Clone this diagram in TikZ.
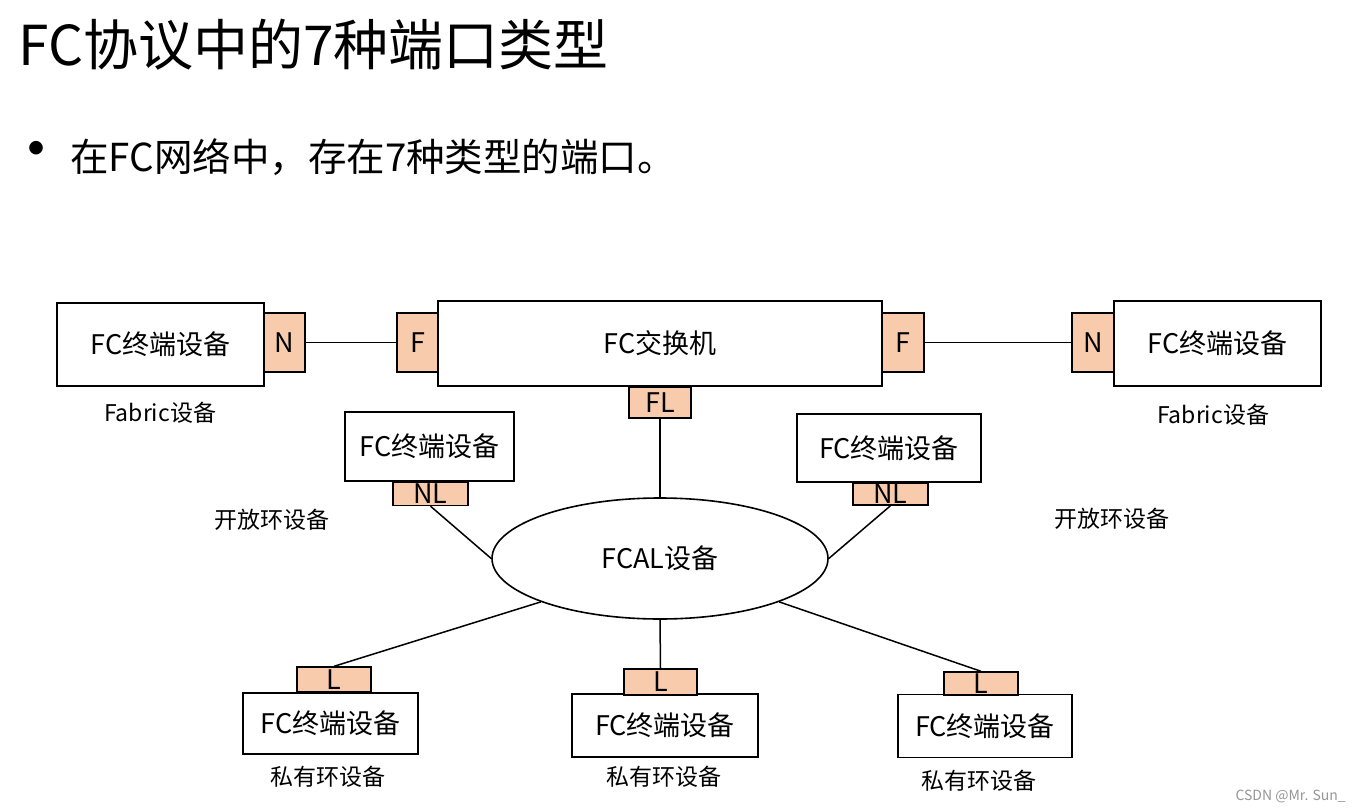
\documentclass[tikz,border=0pt]{standalone}
\usepackage{fontspec}
\setmainfont{Noto Sans CJK SC}
\usetikzlibrary{shapes.geometric}
\definecolor{portc}{RGB}{248,203,173}
\definecolor{wmark}{RGB}{150,150,150}
\begin{document}
\begin{tikzpicture}[x=1pt,y=-1pt,
  dev/.style={draw, line width=1.6pt, inner sep=0pt, font=\fontsize{27}{30}\selectfont},
  port/.style={draw, line width=1.4pt, fill=portc, inner sep=0pt, font=\fontsize{27}{29}\selectfont},
  lbl/.style={inner sep=0pt, font=\fontsize{23}{26}\selectfont},
  link/.style={line width=1.5pt}]
\useasboundingbox[fill=white] (0,0) rectangle (1360,811);

% title and bullet
\node[anchor=west, inner sep=0pt, font=\fontsize{55}{60}\selectfont] (title) at (18,45) {FC协议中的7种端口类型};
\node[inner sep=0pt, font=\fontsize{64}{66}\selectfont] (bul) at (37,157) {•};
\node[anchor=west, inner sep=0pt, font=\fontsize{38.5}{42}\selectfont] (sub) at (70,157) {在FC网络中，存在7种类型的端口。};

% top row
\node[dev, minimum width=207pt, minimum height=83pt] (fabL) at (160.5,344.5) {FC终端设备};
\node[port, minimum width=41pt, minimum height=59pt] (nL) at (284.5,342.5) {N};
\node[port, minimum width=41pt, minimum height=59pt] (fL) at (417.5,342.5) {F};
\node[dev, minimum width=444pt, minimum height=85pt] (sw) at (660,343.5) {FC交换机};
\node[port, minimum width=42pt, minimum height=59pt] (fR) at (903,342.5) {F};
\node[port, minimum width=42pt, minimum height=59pt] (nR) at (1093,342.5) {N};
\node[dev, minimum width=207pt, minimum height=85pt] (fabR) at (1217.5,343.5) {FC终端设备};
\node[port, minimum width=62pt, minimum height=31pt] (fl) at (660,402.5) {FL};

\node[lbl] (labFL) at (160,413) {Fabric设备};
\node[lbl] (labFR) at (1213,415) {Fabric设备};

% loop
\node[dev, ellipse, minimum width=336pt, minimum height=121pt] (al) at (660,558.5) {FCAL设备};

% open loop devices
\node[dev, minimum width=169pt, minimum height=69pt] (oL) at (429.5,446.5) {FC终端设备};
\node[port, minimum width=75pt, minimum height=23pt] (nlL) at (430.5,494) {NL};
\node[dev, minimum width=184pt, minimum height=68pt] (oR) at (889,448) {FC终端设备};
\node[port, minimum width=75pt, minimum height=22pt] (nlR) at (890.5,494) {NL};
\node[lbl] (labOL) at (272,520) {开放环设备};
\node[lbl] (labOR) at (1112,519) {开放环设备};

% private loop devices
\node[dev, minimum width=175pt, minimum height=61pt] (pL) at (330.5,723.5) {FC终端设备};
\node[port, minimum width=74pt, minimum height=25pt] (lL) at (334,679.5) {L};
\node[dev, minimum width=186pt, minimum height=63pt] (pM) at (665,725.5) {FC终端设备};
\node[port, minimum width=73pt, minimum height=26pt] (lM) at (660.5,682) {L};
\node[dev, minimum width=174pt, minimum height=63pt] (pR) at (985,726) {FC终端设备};
\node[port, minimum width=74pt, minimum height=23pt] (lR) at (981,683.5) {L};
\node[lbl] (labPL) at (328,777) {私有环设备};
\node[lbl] (labPM) at (664,777) {私有环设备};
\node[lbl] (labPR) at (979,781) {私有环设备};

% watermark
\node[anchor=east, inner sep=0pt, text=wmark, font=\fontsize{14}{16}\selectfont] (wm) at (1346,796) {CSDN @Mr. Sun\_};

% connectors
\draw[link] (nL.east) -- (fL.west);
\draw[link] (fR.east) -- (nR.west);
\draw[link] (fl.south) -- (al.north);
\draw[link] (nlL.south) -- (al.west);
\draw[link] (nlR.south) -- (al.east);
\draw[link] (al.200) -- (lL.north);
\draw[link] (al.south) -- (lM.north);
\draw[link] (al.340) -- (lR.north);
\end{tikzpicture}
\end{document}
